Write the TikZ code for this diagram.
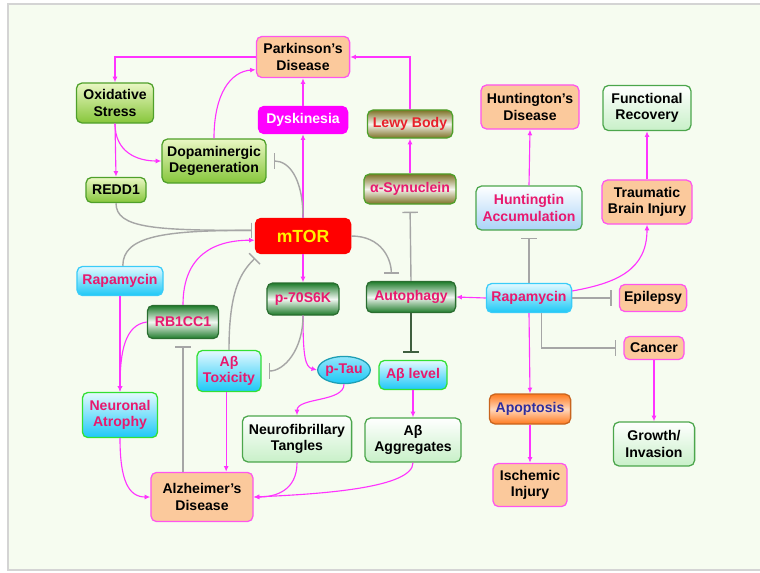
\documentclass[tikz,border=0pt]{standalone}
\usepackage{fontspec}
\setmainfont{Liberation Sans}
\usetikzlibrary{arrows.meta,shapes.geometric,calc}
\definecolor{bgfill}{HTML}{F6FCF0}
\definecolor{framegray}{HTML}{D4D4D4}
\definecolor{linkmag}{HTML}{FF33FF}
\definecolor{linkgray}{HTML}{A6A6A6}
\definecolor{darklink}{HTML}{3F5F3F}
\definecolor{peach}{HTML}{FBC99C}
\definecolor{peachedge}{HTML}{FF55EE}
\definecolor{limetop}{HTML}{EAF7C4}
\definecolor{limebot}{HTML}{86C63A}
\definecolor{limeedge}{HTML}{4FA02A}
\definecolor{palegreen}{HTML}{C8F0C8}
\definecolor{paleedge}{HTML}{4CA64C}
\definecolor{forest}{HTML}{1E7B2A}
\definecolor{forestedge}{HTML}{2A6E30}
\definecolor{olivebrown}{HTML}{7D7226}
\definecolor{cyanbot}{HTML}{1CC8F6}
\definecolor{cyantop}{HTML}{E4F9FF}
\definecolor{cyanedge}{HTML}{3ACCF8}
\definecolor{brightgreen}{HTML}{33E033}
\definecolor{skyblue}{HTML}{A9D3F7}
\definecolor{tangerine}{HTML}{FF7A1E}
\definecolor{tangedge}{HTML}{C8641E}
\definecolor{rosered}{HTML}{E8196E}
\definecolor{lewyred}{HTML}{E8202A}
\definecolor{inkblue}{HTML}{2E2E9E}
\definecolor{dyskmag}{HTML}{FF00FF}
\definecolor{taupeedge}{HTML}{1E9EB4}

\begin{document}
\begin{tikzpicture}[
  x=0.025cm, y=-0.025cm,
  every node/.style={font=\bfseries\fontsize{10}{11.5}\selectfont, align=center, inner sep=1pt},
  box/.style={rectangle, rounded corners=4pt, line width=0.9pt},
  disease/.style={box, draw=peachedge, fill=peach},
  limebox/.style={box, draw=limeedge, top color=limetop, bottom color=limebot},
  palebox/.style={box, draw=paleedge, top color=white, bottom color=palegreen},
  forestbox/.style={box, draw=forestedge, top color=forest, bottom color=forest, middle color=forest!6, text=rosered},
  olivebox/.style={box, draw=limeedge, top color=olivebrown, bottom color=olivebrown, middle color=olivebrown!8, text=rosered},
  cyanbox/.style={box, draw=brightgreen, top color=cyantop, bottom color=cyanbot, text=rosered},
  promote/.style={draw=linkmag, line width=0.8pt, -{Latex[length=4pt,width=3.5pt]}},
  inhibit/.style={draw=linkgray, line width=1pt, -{Bar[width=11pt]}, shorten >=5pt},
]
\useasboundingbox (0,0) rectangle (760,572);
\draw[draw=framegray, fill=bgfill, line width=1pt] (8,4) rectangle (775,570);

% Parkinson's side
\node[disease, minimum width=2.33cm, minimum height=1.03cm] (park) at (303,57) {Parkinson's\\Disease};
\node[limebox, minimum width=1.93cm, minimum height=1cm] (oxi) at (115,103) {Oxidative\\Stress};
\node[box, draw=dyskmag, fill=dyskmag, text=white, minimum width=2.23cm, minimum height=0.68cm] (dysk) at (303,120) {Dyskinesia};
\node[limebox, minimum width=2.6cm, minimum height=1.1cm] (dopa) at (214,161) {Dopaminergic\\Degeneration};
\node[limebox, minimum width=1.5cm, minimum height=0.63cm] (redd) at (116,190) {REDD1};
\node[olivebox, text=lewyred, minimum width=2.13cm, minimum height=0.7cm] (lewy) at (410,124) {Lewy Body};
\node[olivebox, minimum width=2.3cm, minimum height=0.75cm] (asyn) at (410,189) {α-Synuclein};

% mTOR hub
\node[box, draw=red, fill=red, text=yellow, font=\bfseries\fontsize{12.5}{14}\selectfont, minimum width=2.38cm, minimum height=0.88cm] (mtor) at (303,236) {mTOR};
\node[cyanbox, draw=cyanedge, minimum width=2.15cm, minimum height=0.73cm] (rapaL) at (120,281) {Rapamycin};
\node[forestbox, minimum width=1.8cm, minimum height=0.8cm] (p70) at (303,299) {p-70S6K};
\node[forestbox, minimum width=1.78cm, minimum height=0.83cm] (rb) at (183,322) {RB1CC1};
\node[forestbox, minimum width=2.23cm, minimum height=0.78cm] (auto) at (411,297) {Autophagy};

% Alzheimer's side
\node[cyanbox, minimum width=1.6cm, minimum height=1.03cm] (abtox) at (229,371) {Aβ\\Toxicity};
\node[ellipse, inner sep=0pt, draw=taupeedge, line width=0.9pt, top color=cyantop!60!cyanbot, bottom color=cyanbot, text=rosered, minimum width=1.2cm, minimum height=0.68cm] (ptau) at (344,370) {p-Tau};
\node[cyanbox, minimum width=1.7cm, minimum height=0.73cm] (ablvl) at (413,375) {Aβ level};
\node[cyanbox, minimum width=1.88cm, minimum height=1.13cm] (natr) at (120,415) {Neuronal\\Atrophy};
\node[palebox, minimum width=2.73cm, minimum height=1.15cm] (nft) at (297,439) {Neurofibrillary\\Tangles};
\node[palebox, minimum width=2.4cm, minimum height=1.1cm] (abagg) at (413,440) {Aβ\\Aggregates};
\node[disease, minimum width=2.55cm, minimum height=1.23cm] (alz) at (202,497) {Alzheimer's\\Disease};

% Rapamycin targets on the right
\node[disease, minimum width=2.45cm, minimum height=1.1cm] (hd) at (530,107) {Huntington's\\Disease};
\node[palebox, minimum width=2.2cm, minimum height=1.13cm] (frec) at (647,108) {Functional\\Recovery};
\node[box, draw=paleedge, top color=white, bottom color=skyblue, text=rosered, minimum width=2.65cm, minimum height=1.1cm] (hacc) at (529,208) {Huntingtin\\Accumulation};
\node[disease, minimum width=2.25cm, minimum height=1.1cm] (tbi) at (647,202) {Traumatic\\Brain Injury};
\node[cyanbox, draw=cyanedge, minimum width=2.13cm, minimum height=0.73cm] (rapaR) at (529,298) {Rapamycin};
\node[disease, minimum width=1.68cm, minimum height=0.68cm] (epil) at (653,298) {Epilepsy};
\node[disease, minimum width=1.5cm, minimum height=0.58cm] (canc) at (654,348) {Cancer};
\node[box, draw=tangedge, top color=tangerine, bottom color=tangerine, middle color=tangerine!30, text=inkblue, minimum width=2.03cm, minimum height=0.75cm] (apop) at (530,409) {Apoptosis};
\node[palebox, minimum width=2.03cm, minimum height=1.1cm] (grow) at (654,444) {Growth/\\Invasion};
\node[disease, minimum width=1.85cm, minimum height=1.08cm] (isch) at (530,485) {Ischemic\\Injury};

% links around Parkinson's
\draw[promote] (park.west) -| (oxi.north);
\draw[promote] (lewy.north) |- (park.east);
\draw[promote] (dysk.north) -- (park.south);
\draw[promote] (mtor.north) -- (dysk.south);
\draw[promote] (dopa.north) .. controls +(0,-45) and +(-25,2) .. ([yshift=-9pt]park.west);
\draw[promote] (oxi.south) -- (redd.north);
\draw[promote] (oxi.south) .. controls +(0,28) and +(-25,0) .. (dopa.west);
\draw[inhibit] (mtor.north) .. controls +(0,-40) and +(22,0) .. (dopa.east);
\draw[promote] (asyn.north) -- (lewy.south);

% links into mTOR
\draw[inhibit, shorten >=2pt] (redd.south) .. controls +(0,25) and +(-100,0) .. ([yshift=4pt]mtor.west);
\draw[inhibit, shorten >=2pt] ([xshift=2pt]rapaL.north) .. controls +(0,-30) and +(-90,0) .. ([yshift=4pt]mtor.west);
\draw[promote] (rb.north) .. controls +(0,-50) and +(-40,0) .. ([yshift=-3pt]mtor.west);
\draw[inhibit, shorten >=4pt] (abtox.north) .. controls +(0,-60) and +(-18,18) .. ([xshift=3pt]mtor.south west);

% links out of mTOR
\draw[promote] (mtor.south) -- (p70.north);
\draw[inhibit] (mtor.east) .. controls +(30,0) and +(0,-22) .. ([xshift=-14pt]auto.north);
\draw[inhibit] (auto.north) -- (asyn.south);
\draw[inhibit, draw=darklink] (auto.south) -- (auto.south |- ablvl.north);
\draw[promote] (ablvl.south) -- (abagg.north);
\draw[promote] (p70.south) .. controls +(0,40) and +(-12,-3) .. (ptau.west);
\draw[inhibit] (p70.south) .. controls +(0,35) and +(22,0) .. (abtox.east);
\draw[promote] (ptau.south) .. controls +(0,18) and +(0,-18) .. (nft.north);

% links into Alzheimer's
\draw[promote] (abagg.south) .. controls +(0,25) and +(70,-3) .. (alz.east);
\draw[promote] (nft.south) .. controls +(0,28) and +(22,0) .. (alz.east);
\draw[promote] ([xshift=-2pt]abtox.south) -- ([xshift=-2pt]abtox.south |- alz.north);
\draw[inhibit] (rb.south |- alz.north) -- (rb.south);
\draw[promote] (rapaL.south) -- (natr.north);
\draw[promote] (rb.west) .. controls +(-22,3) and +(0,-40) .. (natr.north);
\draw[promote] (natr.south) .. controls +(0,42) and +(-22,0) .. (alz.west);

% right-hand Rapamycin
\draw[promote] (rapaR.west) -- (auto.east);
\draw[inhibit] (rapaR.north) -- (hacc.south);
\draw[promote] (hacc.north) -- (hd.south);
\draw[promote] ([yshift=5pt]rapaR.east) .. controls +(45,-8) and +(0,45) .. (tbi.south);
\draw[promote] (tbi.north) -- (frec.south);
\draw[inhibit] (rapaR.east) -- (epil.west);
\draw[inhibit] ([xshift=9pt]rapaR.south) |- (canc.west);
\draw[promote] (rapaR.south) -- (apop.north);
\draw[promote] (apop.south) -- (isch.north);
\draw[promote] (canc.south) -- (grow.north);

\end{tikzpicture}
\end{document}
